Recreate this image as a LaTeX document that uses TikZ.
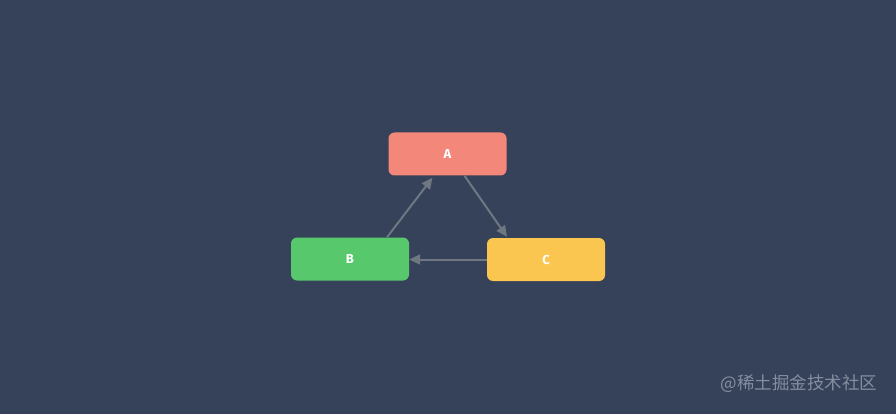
\documentclass[tikz,border=0pt]{standalone}
\usepackage{fontspec}
\setmainfont{Fira Sans}
\newfontfamily\cjk{Noto Sans CJK SC}
\usetikzlibrary{arrows.meta}
\definecolor{bgblue}{HTML}{36425A}
\definecolor{salmon}{HTML}{F2877A}
\definecolor{leafgreen}{HTML}{57C86B}
\definecolor{sunyellow}{HTML}{FBC650}
\definecolor{linkgray}{HTML}{6E7782}
\definecolor{markgray}{HTML}{858EA0}
\begin{document}
\begin{tikzpicture}[x=1pt,y=-1pt,
  box/.style={shape=rectangle,rounded corners=6pt,minimum width=118pt,minimum height=43pt,inner sep=0pt,text=white,font=\bfseries\fontsize{13}{15}\selectfont},
  link/.style={-{Triangle[length=11pt,width=10pt]},draw=linkgray,line width=2pt}]
\fill[bgblue] (0,0) rectangle (896,414);
\useasboundingbox (0,0) rectangle (896,414);
\node[box,fill=salmon](A) at (447.5,154){A};
\node[box,fill=leafgreen](B) at (350,259){B};
\node[box,fill=sunyellow](C) at (546,259.5){C};
\draw[link] ([xshift=37pt]B.north) -- ([xshift=-15pt,yshift=-2pt]A.south);
\draw[link] ([xshift=17pt]A.south) -- ([xshift=-39pt,yshift=1pt]C.north);
\draw[link] (C.west) -- (B.east |- C.west);
\node[text=markgray,font=\cjk\fontsize{17.5}{20}\selectfont](mark) at (799,384){@稀土掘金技术社区};
\end{tikzpicture}
\end{document}
